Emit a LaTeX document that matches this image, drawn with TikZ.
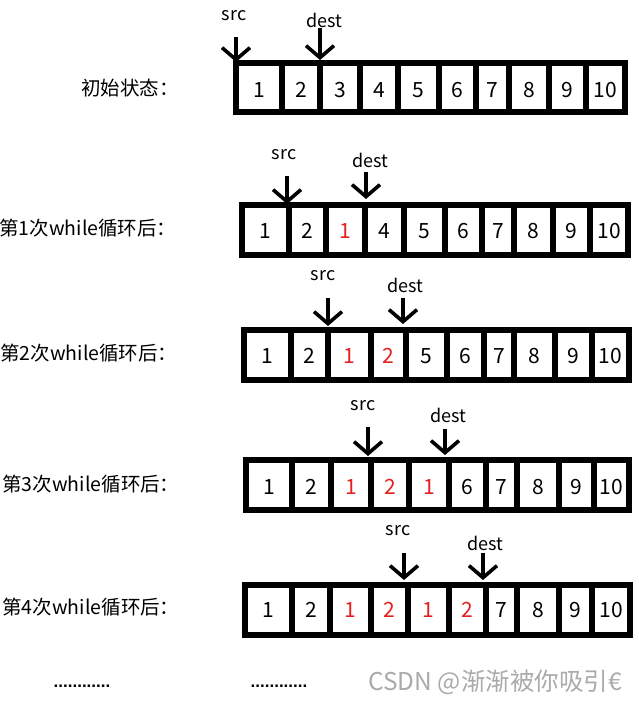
\documentclass[tikz,border=0pt]{standalone}
\usepackage{fontspec}
\setmainfont{Liberation Sans}
\newfontfamily\cjk{Noto Sans CJK SC}
\usetikzlibrary{arrows.meta}
\definecolor{numred}{RGB}{230,30,30}
\definecolor{wm}{RGB}{170,170,170}
\begin{document}
\begin{tikzpicture}[x=1pt,y=-1pt,
  cellline/.style={line width=5.5pt, line join=miter},
  num/.style={inner sep=0pt, font=\cjk\fontsize{21}{24}\selectfont},
  rowlabel/.style={inner sep=0pt, font=\cjk\fontsize{19.5}{23}\selectfont},
  ptrlabel/.style={inner sep=0pt, font=\cjk\fontsize{18}{21}\selectfont},
  ptr/.style={line width=3.6pt, -{Straight Barb[length=12pt,width=28pt,line width=3.6pt]}},
  dots/.style={inner sep=0pt, font=\bfseries\fontsize{17}{20}\selectfont}]
\useasboundingbox (0,0) rectangle (639,702);

% Row 0
\foreach \a/\b/\t/\c [count=\i] in {236/282/1/black,282/320/2/black,320/360/3/black,360/398/4/black,398/439/5/black,439/476/6/black,476/509/7/black,509/549/8/black,549/586/9/black,586/625/10/black}{
  \draw[cellline] (\a,63) rectangle (\b,112);
  \node[num,text=\c] (r0c\i) at ({(\a+\b)/2},90) {\t};
}
\node[rowlabel] (l0) at (130,88) {初始状态：};
\coordinate (s0a) at (236,37); \coordinate (s0b) at (236,62);
\coordinate (d0a) at (320,28); \coordinate (d0b) at (320,60);
\draw[ptr] (s0a) -- (s0b);
\draw[ptr] (d0a) -- (d0b);
\node[ptrlabel] (src0) at (234,16) {src};
\node[ptrlabel] (dest0) at (324,20) {dest};

% Row 1
\foreach \a/\b/\t/\c [count=\i] in {242/289/1/black,289/326/2/black,326/365/1/numred,365/404/4/black,404/445/5/black,445/482/6/black,482/514/7/black,514/553/8/black,553/590/9/black,590/628/10/black}{
  \draw[cellline] (\a,205) rectangle (\b,255);
  \node[num,text=\c] (r1c\i) at ({(\a+\b)/2},231) {\t};
}
\node[rowlabel] (l1) at (88,228) {第1次while循环后：};
\coordinate (s1a) at (287,176); \coordinate (s1b) at (287,204);
\coordinate (d1a) at (366,172); \coordinate (d1b) at (366,199);
\draw[ptr] (s1a) -- (s1b);
\draw[ptr] (d1a) -- (d1b);
\node[ptrlabel] (src1) at (284,155) {src};
\node[ptrlabel] (dest1) at (370,160) {dest};

% Row 2
\foreach \a/\b/\t/\c [count=\i] in {244/291/1/black,291/328/2/black,328/371/1/numred,371/406/2/numred,406/447/5/black,447/484/6/black,484/514/7/black,514/555/8/black,555/592/9/black,592/629/10/black}{
  \draw[cellline] (\a,330) rectangle (\b,380);
  \node[num,text=\c] (r2c\i) at ({(\a+\b)/2},356) {\t};
}
\node[rowlabel] (l2) at (89,353) {第2次while循环后：};
\coordinate (s2a) at (328,298); \coordinate (s2b) at (328,326);
\coordinate (d2a) at (403,298); \coordinate (d2b) at (403,324);
\draw[ptr] (s2a) -- (s2b);
\draw[ptr] (d2a) -- (d2b);
\node[ptrlabel] (src2) at (323,276) {src};
\node[ptrlabel] (dest2) at (405,285) {dest};

% Row 3
\foreach \a/\b/\t/\c [count=\i] in {246/292/1/black,292/331/2/black,331/371/1/numred,371/409/2/numred,409/449/1/numred,449/486/6/black,486/517/7/black,517/559/8/black,559/594/9/black,594/629/10/black}{
  \draw[cellline] (\a,460) rectangle (\b,510);
  \node[num,text=\c] (r3c\i) at ({(\a+\b)/2},487) {\t};
}
\node[rowlabel] (l3) at (91,484) {第3次while循环后：};
\coordinate (s3a) at (368,427); \coordinate (s3b) at (368,456);
\coordinate (d3a) at (445,429); \coordinate (d3b) at (445,455);
\draw[ptr] (s3a) -- (s3b);
\draw[ptr] (d3a) -- (d3b);
\node[ptrlabel] (src3) at (363,406) {src};
\node[ptrlabel] (dest3) at (448,415) {dest};

% Row 4
\foreach \a/\b/\t/\c [count=\i] in {245/292/1/black,292/330/2/black,330/371/1/numred,371/408/2/numred,408/449/1/numred,449/486/2/numred,486/517/7/black,517/559/8/black,559/592/9/black,592/630/10/black}{
  \draw[cellline] (\a,585) rectangle (\b,635);
  \node[num,text=\c] (r4c\i) at ({(\a+\b)/2},610) {\t};
}
\node[rowlabel] (l4) at (91,607) {第4次while循环后：};
\coordinate (s4a) at (404,553); \coordinate (s4b) at (404,580);
\coordinate (d4a) at (483,553); \coordinate (d4b) at (483,580);
\draw[ptr] (s4a) -- (s4b);
\draw[ptr] (d4a) -- (d4b);
\node[ptrlabel] (src4) at (398,531) {src};
\node[ptrlabel] (dest4) at (485,543) {dest};

% dots and watermark
\node[dots] (dotsA) at (82,686) {............};
\node[dots] (dotsB) at (279,686) {............};
\node[inner sep=0pt, text=wm, font=\cjk\fontsize{24.5}{28}\selectfont] (wmark) at (495,682) {CSDN @渐渐被你吸引€};
\end{tikzpicture}
\end{document}
